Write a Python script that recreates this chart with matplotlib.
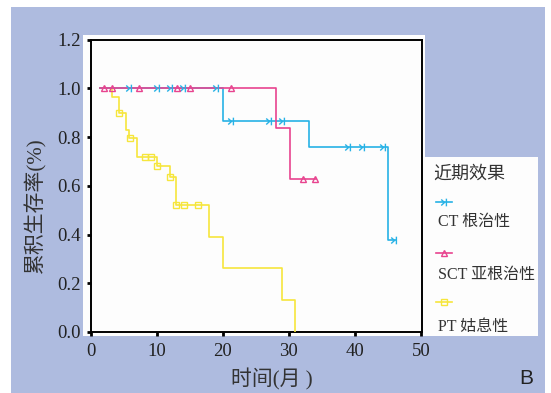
import numpy as np
import matplotlib
matplotlib.use("Agg")
import matplotlib.pyplot as plt
from matplotlib.patches import Rectangle
from matplotlib.lines import Line2D
from matplotlib.path import Path

plt.rcParams['font.family'] = ['Liberation Serif', 'Noto Sans CJK SC', 'DejaVu Sans']

# ---------------- data ----------------
groups = ["CT 根治性", "SCT 亚根治性", "PT 姑息性"]
legend_title = "近期效果"

ct_times = [1.5, 20.0, 33.0, 45.0]
ct_surv = [1.0, 0.867, 0.757, 0.379]
ct_end = 46.3
ct_censor = [5.9, 10.1, 12.0, 14.0, 19.0, 21.2, 27.0, 29.0, 39.0, 41.1, 44.2, 46.0]

sct_times = [1.5, 28.1, 30.2]
sct_surv = [1.0, 0.836, 0.627]
sct_end = 34.2
sct_censor = [2.0, 3.3, 7.3, 13.1, 15.1, 21.2, 32.1, 34.0]

pt_times = [1.5, 3.2, 4.3, 5.3, 5.9, 7.1, 10.0, 12.1, 13.0, 18.0, 20.0, 29.0, 31.0]
pt_surv = [1.0, 0.964, 0.900, 0.830, 0.795, 0.720, 0.683, 0.635, 0.521, 0.389, 0.261, 0.130, 0.0]
pt_end = 31.0
pt_censor = [4.3, 6.0, 8.2, 9.2, 10.0, 12.1, 13.0, 14.1, 16.2]

xticks = [0, 10, 20, 30, 40, 50]
yticks = [0.0, 0.2, 0.4, 0.6, 0.8, 1.0, 1.2]
xlabel = "时间(月 )"
ylabel = "累积生存率(%)"
panel_tag = "B"

# ---------------- style ----------------
c_ct = "#27b2e6"
c_sct = "#e8448f"
c_pt = "#f6e63c"
bg_blue = "#aebbdf"

ct_marker = Path([(-0.6, 0.55), (0.0, 0.0), (-0.6, -0.55), (0.35, 0.7), (0.35, -0.7)],
                 [Path.MOVETO, Path.LINETO, Path.LINETO, Path.MOVETO, Path.LINETO])

W, H = 551, 393
fig = plt.figure(figsize=(W / 100, H / 100), dpi=100)
fig.patch.set_facecolor("white")

def fx(px):
    return px / W

def fy(py):
    return 1 - py / H

# background blue page
fig.add_artist(Rectangle((fx(11), fy(393)), fx(545) - fx(11), fy(7) - fy(393),
                         transform=fig.transFigure, facecolor=bg_blue, edgecolor="none", zorder=-10))
# white chart panel
fig.add_artist(Rectangle((fx(83), fy(336)), fx(425) - fx(83), fy(35) - fy(336),
                         transform=fig.transFigure, facecolor="#fdfdfd", edgecolor="none", zorder=-9))
# white legend panel
fig.add_artist(Rectangle((fx(424), fy(336)), fx(538) - fx(424), fy(157) - fy(336),
                         transform=fig.transFigure, facecolor="#fdfdfd", edgecolor="none", zorder=-9))

ax = fig.add_axes([fx(90.5), fy(332), fx(421.5) - fx(90.5), fy(39.5) - fy(332)])
ax.set_facecolor("#fdfdfd")


def draw_group(times, surv, end, censor, color, marker, ms):
    xs = list(times) + [end]
    ys = list(surv) + [surv[-1]]
    ax.step(xs, ys, where="post", color=color, lw=1.2, zorder=3)
    lev = [surv[np.searchsorted(times, t, side="right") - 1] for t in censor]
    ax.plot(censor, lev, linestyle="none", marker=marker, ms=ms, mfc="none",
            mec=color, mew=1.0, zorder=4)


draw_group(pt_times, pt_surv, pt_end, pt_censor, c_pt, "s", 4.5)
draw_group(ct_times, ct_surv, ct_end, ct_censor, c_ct, ct_marker, 5.5)
draw_group(sct_times, sct_surv, sct_end, sct_censor, c_sct, "^", 5)

ax.set_xlim(0, 50.1)
ax.set_ylim(0, 1.2)
ax.set_xticks(xticks)
ax.set_yticks(yticks)
ax.set_yticklabels([f"{v:.1f}" for v in yticks])
ax.tick_params(direction="out", length=3, width=2, labelsize=13.5, color="black",
               labelcolor="#222222")
ax.tick_params(axis="y", pad=4)
ax.tick_params(axis="x", pad=5)
for s in ax.spines.values():
    s.set_linewidth(1.4)
    s.set_color("black")

fig.text(fx(272), fy(379), xlabel, ha="center", va="center", fontsize=15, color="#333333")
fig.text(fx(35), fy(205), ylabel, ha="center", va="center", rotation=90, fontsize=15,
         color="#333333")
fig.text(fx(526), fy(379), panel_tag, ha="center", va="center", fontsize=15,
         family="Liberation Sans", color="#222222")

# legend
fig.text(fx(433), fy(174), legend_title, ha="left", va="center", fontsize=13, color="#333333")
leg_y = [201.7, 252.7, 301.7]
lab_y = [221.7, 274.5, 326.5]
colors = [c_ct, c_sct, c_pt]
markers = [ct_marker, "^", "s"]
sizes = [5.5, 5, 4.5]
for name, col, mk, sz, ly, ty in zip(groups, colors, markers, sizes, leg_y, lab_y):
    fig.add_artist(Line2D([fx(436), fx(452)], [fy(ly), fy(ly)], transform=fig.transFigure,
                          color=col, lw=1.2))
    fig.add_artist(Line2D([fx(444)], [fy(ly)], transform=fig.transFigure, color=col,
                          marker=mk, ms=sz, mfc="none", mec=col, mew=1.0, linestyle="none"))
    fig.text(fx(438), fy(ty), name, ha="left", va="center", fontsize=11.5, color="#333333")

fig.savefig("out.png", dpi=100, facecolor=fig.get_facecolor())
